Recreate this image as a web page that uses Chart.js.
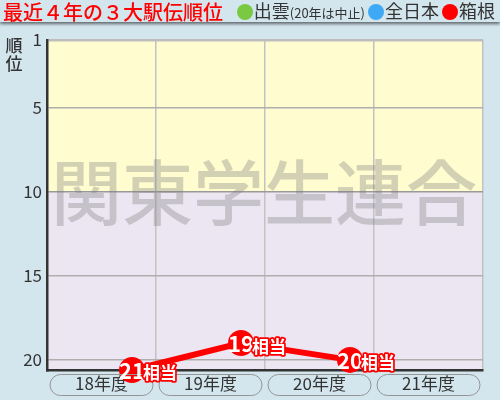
<!DOCTYPE html>
<html>
<head>
<meta charset="utf-8">
<script src="https://cdn.jsdelivr.net/npm/chart.js@4"></script>
<style>
  body { margin: 0; background: #d3e6ee; width: 500px; height: 400px; overflow: hidden;
         font-family: "Noto Sans CJK JP", "Noto Sans", sans-serif; }
  #head { position: relative; height: 22px; background: #d3e6ee; box-shadow: 0 2px 3px rgba(0,0,0,0.55);
          white-space: nowrap; z-index: 2; }
  #title { position: absolute; left: 3px; top: -3px; color: #f00; font-size: 20px; font-weight: 500; }
  #legend { position: absolute; right: 5px; top: -3px; font-size: 18px; color: #333; }
  #legend span.dot { display: inline-block; width: 16px; height: 16px; border-radius: 50%;
                     vertical-align: -2px; margin: 0 1px 0 3px; }
  #legend small { font-size: 13px; }
  #wrap { position: relative; width: 500px; height: 378px; }
</style>
</head>
<body>
<div id="head">
  <div id="title">最近４年の３大駅伝順位</div>
  <div id="legend"></div>
</div>
<div id="wrap"><canvas id="grafico-juni"></canvas></div>
<script>
// データ
const CATEGORIES = ['18年度', '19年度', '20年度', '21年度'];
const SERIES_NAMES = ['出雲', '全日本', '箱根'];
const SERIES_NOTES = ['(20年は中止)', '', ''];
const IZUMO = [null, null, null, null];
const ZENNIHON = [null, null, null, null];
const HAKONE = [21, 19, 20, null];
const Y_TICKS = [1, 5, 10, 15, 20];
const WATERMARK = '関東学生連合';
const LABEL_SUFFIX = '相当';

const COLORS = ['#7ac943', '#3fa9f5', '#ff0000'];
const OFFSETS = [-0.28, 0, 0.28]; // 各大会の位置ずらし
const Y_MAX = 20.6;

// 凡例 (HTML)
document.getElementById('legend').innerHTML = SERIES_NAMES.map((n, i) =>
  '<span class="dot" style="background:' + COLORS[i] + '"></span>' + n +
  (SERIES_NOTES[i] ? '<small>' + SERIES_NOTES[i] + '</small>' : '')).join('');

function toPoints(arr, k) {
  return arr.map((v, i) => v == null ? null : { x: i + OFFSETS[k], y: Math.min(v, Y_MAX), raw: v })
            .filter(p => p);
}

// 背景・透かし・ラベル
const juniPlugin = {
  id: 'juni',
  beforeDraw(chart) {
    const { ctx, chartArea: a, scales } = chart;
    const y10 = scales.y.getPixelForValue(10);
    ctx.save();
    ctx.fillStyle = '#fffcd0';
    ctx.fillRect(a.left, a.top, a.right - a.left, y10 - a.top);
    ctx.fillStyle = '#ece6f2';
    ctx.fillRect(a.left, y10, a.right - a.left, a.bottom - y10);
    ctx.restore();
  },
  beforeDatasetsDraw(chart) {
    const { ctx, chartArea: a } = chart;
    ctx.save();
    ctx.font = '500 71px "Noto Sans CJK JP"';
    ctx.fillStyle = 'rgba(120,120,120,0.33)';
    ctx.textAlign = 'center';
    ctx.textBaseline = 'middle';
    ctx.fillText(WATERMARK, (a.left + a.right) / 2 - 1, 170);
    ctx.restore();
  },
  afterDraw(chart) {
    const { ctx, scales } = chart;
    ctx.save();
    // 順位
    ctx.font = '500 17px "Noto Sans CJK JP"';
    ctx.fillStyle = '#333';
    ctx.textAlign = 'center';
    ctx.textBaseline = 'middle';
    ctx.fillText('順', 14, 24);
    ctx.fillText('位', 14, 42);
    // 年度の枠
    ctx.strokeStyle = '#959595';
    ctx.lineWidth = 1;
    CATEGORIES.forEach((c, i) => {
      const x = scales.x.getPixelForValue(i);
      ctx.beginPath();
      ctx.roundRect(x - 51.5, 352.5, 103, 21, 10.5);
      ctx.stroke();
    });
    // 順位ラベル
    const meta = chart.getDatasetMeta(2);
    meta.data.forEach((pt, i) => {
      const raw = chart.data.datasets[2].data[i].raw;
      ctx.textBaseline = 'middle';
      ctx.textAlign = 'center';
      ctx.font = 'bold 22px "Noto Sans CJK JP"';
      ctx.fillStyle = '#fff';
      ctx.fillText(String(raw), pt.x, pt.y + 1);
      ctx.textAlign = 'left';
      ctx.font = 'bold 17px "Noto Sans CJK JP"';
      ctx.lineWidth = 3.5;
      ctx.lineJoin = 'round';
      ctx.strokeStyle = '#ff0000';
      ctx.strokeText(LABEL_SUFFIX, pt.x + 11, pt.y + 3);
      ctx.fillText(LABEL_SUFFIX, pt.x + 11, pt.y + 3);
    });
    ctx.restore();
  }
};

const datasets = [IZUMO, ZENNIHON, HAKONE].map((arr, k) => ({
  label: SERIES_NAMES[k],
  data: toPoints(arr, k),
  borderColor: COLORS[k],
  backgroundColor: COLORS[k],
  borderWidth: 6,
  pointRadius: 13,
  pointHoverRadius: 13,
  pointBorderWidth: 0,
  clip: false
}));

const ctxJuni = document.getElementById('grafico-juni').getContext('2d');
const juniChart = new Chart(ctxJuni, {
  type: 'line',
  data: { datasets: datasets },
  plugins: [juniPlugin],
  options: {
    responsive: true,
    maintainAspectRatio: false,
    animation: false,
    layout: { padding: { top: 18, right: 17, left: 0, bottom: 0 } },
    plugins: {
      legend: { display: false },
      tooltip: { enabled: false }
    },
    scales: {
      x: {
        type: 'linear',
        min: -0.5,
        max: 3.5,
        afterBuildTicks: s => { s.ticks = CATEGORIES.map((c, i) => ({ value: i })); },
        afterFit: s => { s.height = 30; },
        ticks: {
          callback: v => CATEGORIES[v],
          color: '#333',
          font: { family: '"Noto Sans CJK JP"', size: 17 },
          padding: 3,
          maxRotation: 0,
          autoSkip: false
        },
        grid: {
          offset: true,
          drawTicks: false,
          color: c => (c.index === 0 || c.index === CATEGORIES.length) ? 'rgba(0,0,0,0)' : '#c2c2c2',
          lineWidth: 1.5
        },
        border: { color: '#333', width: 2.5 }
      },
      y: {
        reverse: true,
        min: 1,
        max: Y_MAX,
        afterBuildTicks: s => { s.ticks = Y_TICKS.map(v => ({ value: v })); },
        afterFit: s => { s.width = 47; },
        ticks: {
          color: '#333',
          font: { family: '"Noto Sans CJK JP"', size: 17 },
          padding: 5
        },
        grid: {
          drawTicks: false,
          color: c => c.index === 0 ? '#bdbdbd' : (c.tick && c.tick.value === 10 ? '#999' : '#aeaeae'),
          lineWidth: c => c.index === 0 ? 2.5 : 1.5
        },
        border: { color: '#333', width: 2.5 }
      }
    }
  }
});
</script>
</body>
</html>
